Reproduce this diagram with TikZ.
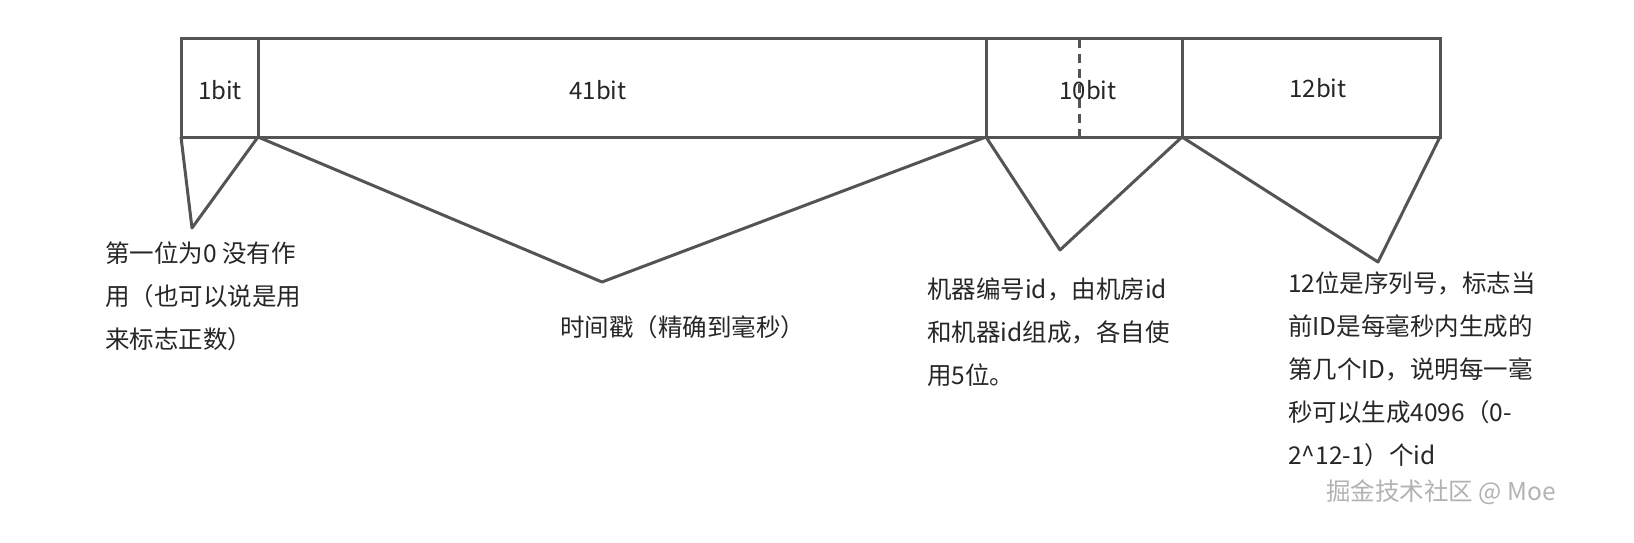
\documentclass[tikz,border=0pt]{standalone}
\usepackage{fontspec}
\setmainfont{Noto Sans CJK SC}
\begin{document}
\begin{tikzpicture}[x=1pt,y=-1pt,
  ln/.style={draw=black!67,line width=3pt},
  txt/.style={anchor=west,inner sep=0pt,font=\fontsize{24.5}{43}\selectfont,text=black!85},
  lbl/.style={inner sep=0pt,font=\fontsize{24}{28}\selectfont,text=black!85}]
\useasboundingbox (0,0) rectangle (1634,543);
\coordinate (a1) at (181,39); \coordinate (a2) at (258,39); \coordinate (a3) at (986,39);
\coordinate (a4) at (1182,39); \coordinate (a5) at (1440,39);
\coordinate (b1) at (181,137); \coordinate (b2) at (258,137); \coordinate (b3) at (986,137);
\coordinate (b4) at (1182,137); \coordinate (b5) at (1440,137);
\coordinate (t1) at (192,228); \coordinate (t2) at (602,282); \coordinate (t3) at (1060,250); \coordinate (t4) at (1378,262);
\coordinate (d1) at (1079,39); \coordinate (d2) at (1079,137);
\draw[ln] (a1) rectangle (b5);
\draw[ln] (a2)--(b2) (a3)--(b3) (a4)--(b4);
\draw[ln,dash pattern=on 9pt off 6pt] (d1)--(d2);
\draw[ln,line join=round] (b1)--(t1)--(b2)--(t2)--(b3)--(t3)--(b4)--(t4)--(b5);
\node[lbl] (l1) at (220,90) {1bit};
\node[lbl] (l2) at (598,90) {41bit};
\node[lbl] (l3) at (1088,90) {10bit};
\node[lbl] (l4) at (1318,88) {12bit};
\node[txt,anchor=north west,align=left] (n1) at (105,242) {第一位为0 没有作\\用（也可以说是用\\来标志正数）};
\node[txt] (n2) at (560,327) {时间戳（精确到毫秒）};
\node[txt,anchor=north west,align=left] (n3) at (927,278) {机器编号id，由机房id\\和机器id组成，各自使\\用5位。};
\node[txt,anchor=north west,align=left] (n4) at (1288,272) {12位是序列号，标志当\\前ID是每毫秒内生成的\\第几个ID，说明每一毫\\秒可以生成4096（0-\\2\^{}12-1）个id};
\node[txt,text=black!30] (wm) at (1326,492) {掘金技术社区 @ Moe};
\end{tikzpicture}
\end{document}
